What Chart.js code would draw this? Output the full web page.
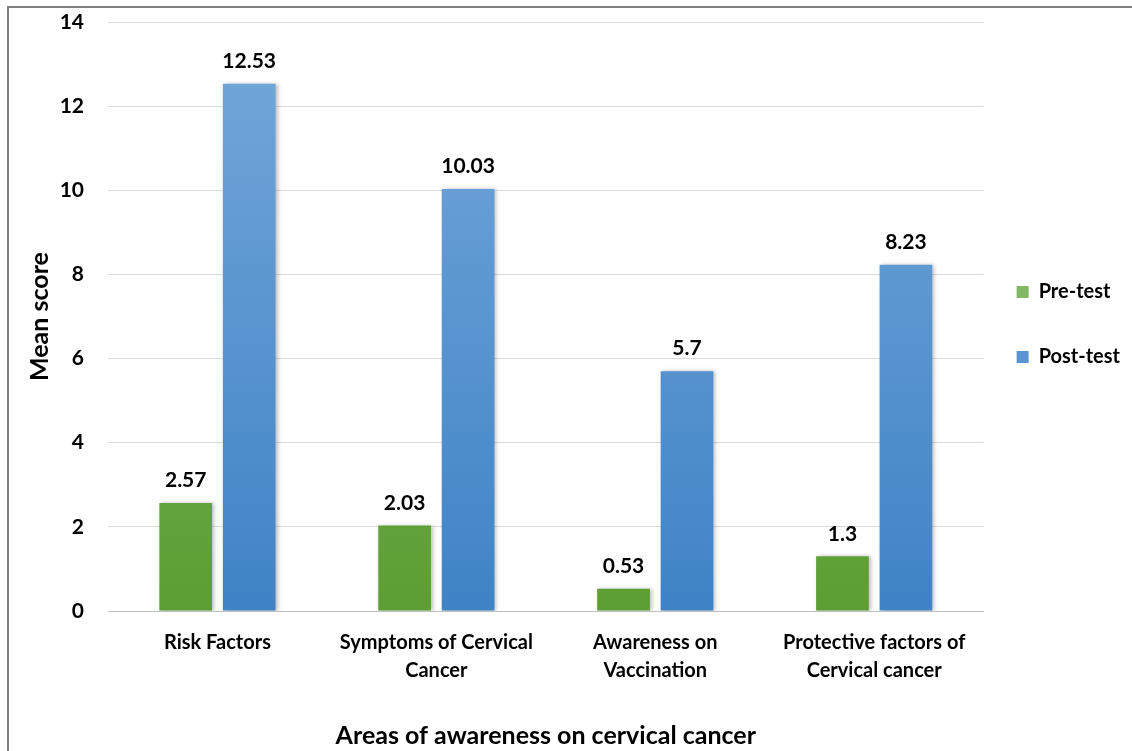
<!DOCTYPE html>
<html>
<head>
<meta charset="utf-8">
<script src="https://cdn.jsdelivr.net/npm/chart.js@4.4.0/dist/chart.umd.min.js"></script>
<style>
    html, body { margin: 0; padding: 0; background: #ffffff; overflow: hidden; }
    #wrap { position: relative; width: 1132px; height: 751px; }
    #frame {
        position: absolute; left: 7px; top: 6px; width: 1200px; height: 800px;
        border-left: 2px solid #7f7f7f; border-top: 2px solid #7f7f7f;
    }
    canvas { position: absolute; left: 0; top: 0; }
</style>
</head>
<body>
<div id="wrap">
    <div id="frame"></div>
    <canvas id="chart" width="1132" height="751"></canvas>
</div>
<script>
// Data
const categories = [
    'Risk Factors',
    ['Symptoms of Cervical', 'Cancer'],
    ['Awareness on', 'Vaccination'],
    ['Protective factors of', 'Cervical cancer']
];
const preTest = [2.57, 2.03, 0.53, 1.3];
const postTest = [12.53, 10.03, 5.7, 8.23];
const seriesNames = ['Pre-test', 'Post-test'];
const yTicks = [0, 2, 4, 6, 8, 10, 12, 14];

const FONT = 'Lato, "Open Sans", sans-serif';

function barGradient(top, bottom) {
    return function(context) {
        const chart = context.chart;
        const area = chart.chartArea;
        if (!area) return bottom;
        const el = context.element;
        const y0 = el && el.y !== undefined ? el.y : area.top;
        const y1 = el && el.base !== undefined ? el.base : area.bottom;
        if (!isFinite(y0) || !isFinite(y1) || y0 === y1) return bottom;
        const g = chart.ctx.createLinearGradient(0, y0, 0, y1);
        g.addColorStop(0, top);
        g.addColorStop(1, bottom);
        return g;
    };
}

// Value labels above each bar
const valueLabels = {
    id: 'valueLabels',
    afterDatasetsDraw(chart) {
        const ctx = chart.ctx;
        ctx.save();
        ctx.font = 'bold 21px ' + FONT;
        ctx.fillStyle = '#000000';
        ctx.textAlign = 'center';
        ctx.textBaseline = 'bottom';
        chart.data.datasets.forEach((ds, i) => {
            chart.getDatasetMeta(i).data.forEach((bar, j) => {
                ctx.fillText(String(ds.data[j]), bar.x, bar.y - 12);
            });
        });
        ctx.restore();
    }
};

// Soft shadow under bars
const barShadow = {
    id: 'barShadow',
    beforeDatasetsDraw(chart) {
        chart.ctx.save();
        chart.ctx.shadowColor = 'rgba(0,0,0,0.25)';
        chart.ctx.shadowBlur = 4;
        chart.ctx.shadowOffsetX = 2;
        chart.ctx.shadowOffsetY = 0;
    },
    afterDatasetsDraw(chart) {
        chart.ctx.restore();
    }
};

new Chart(document.getElementById('chart'), {
    type: 'bar',
    data: {
        labels: categories,
        datasets: [{
            label: seriesNames[0],
            data: preTest,
            backgroundColor: barGradient('#82b865', '#5c9e33'),
            borderWidth: 0
        }, {
            label: seriesNames[1],
            data: postTest,
            backgroundColor: barGradient('#75a8da', '#3f83c6'),
            borderWidth: 0
        }]
    },
    options: {
        responsive: false,
        animation: false,
        categoryPercentage: 0.58,
        barPercentage: 0.83,
        layout: { padding: { left: 21, top: 0, right: 2, bottom: 0 } },
        scales: {
            x: {
                grid: { display: false },
                border: { display: true, color: '#bfbfbf', width: 1 },
                ticks: {
                    color: '#000000',
                    font: { family: FONT, size: 20, weight: 'bold', lineHeight: 1.4 },
                    maxRotation: 0,
                    autoSkip: false,
                    padding: 10
                },
                title: {
                    display: true,
                    text: 'Areas of awareness on cervical cancer',
                    color: '#000000',
                    font: { family: FONT, size: 25, weight: 'bold' },
                    padding: { top: 26, bottom: 0 }
                }
            },
            y: {
                min: 0,
                max: 14,
                afterBuildTicks(axis) {
                    axis.ticks = yTicks.map(v => ({ value: v }));
                },
                afterFit(axis) {
                    axis.width = 87;
                    axis.paddingTop = 22;
                },
                grid: { color: '#d9d9d9', lineWidth: 1, drawTicks: false },
                border: { display: false },
                ticks: {
                    color: '#000000',
                    font: { family: FONT, size: 21, weight: 'bold' },
                    padding: 24
                },
                title: {
                    display: true,
                    text: 'Mean score',
                    color: '#000000',
                    font: { family: FONT, size: 25, weight: 'bold' },
                    padding: { top: 4, bottom: 12 }
                }
            }
        },
        plugins: {
            legend: {
                position: 'right',
                fullSize: false,
                maxWidth: 148,
                title: {
                    display: true,
                    text: ' ',
                    font: { size: 10 },
                    padding: 8
                },
                labels: {
                    color: '#000000',
                    font: { family: FONT, size: 20, weight: 'bold', lineHeight: '32px' },
                    boxWidth: 12,
                    boxHeight: 12,
                    padding: 33,
                    generateLabels(chart) {
                        const items = Chart.defaults.plugins.legend.labels.generateLabels(chart);
                        return items.map(item => Object.assign(item, { text: [item.text] }));
                    }
                }
            },
            tooltip: { enabled: false }
        }
    },
    plugins: [barShadow, valueLabels]
});
</script>
</body>
</html>
